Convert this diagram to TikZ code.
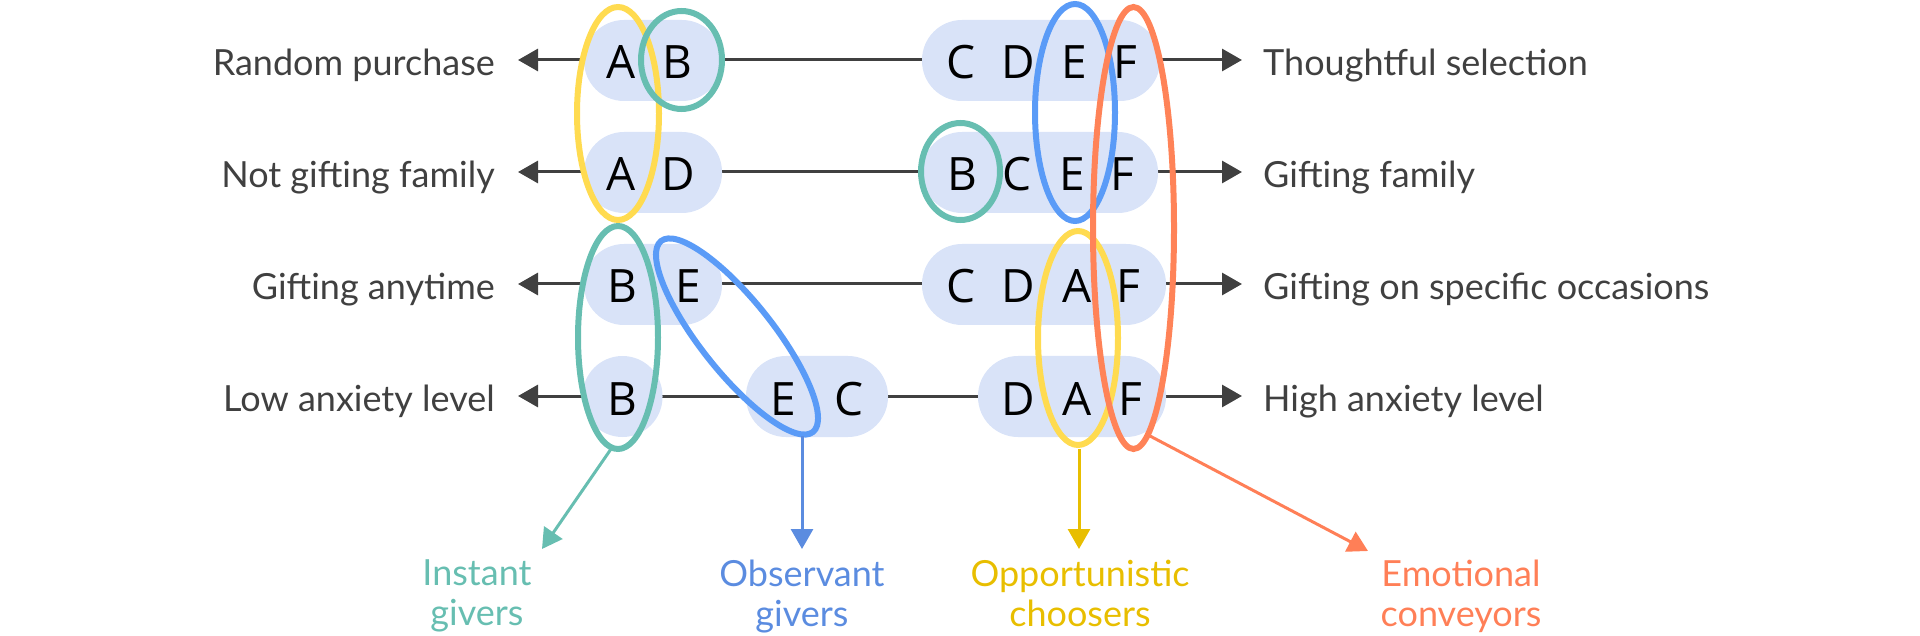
\documentclass[tikz,border=0pt]{standalone}
\usepackage{fontspec}
\setmainfont{Lato}
\newfontfamily\letterfont{Open Sans}
\usetikzlibrary{arrows.meta}
\definecolor{pillc}{HTML}{D9E3F8}
\definecolor{darkc}{HTML}{404040}
\definecolor{tealc}{HTML}{67BEB1}
\definecolor{blueE}{HTML}{5A9BF7}
\definecolor{blueT}{HTML}{5B8CE0}
\definecolor{yellowE}{HTML}{FFDB50}
\definecolor{yellowT}{HTML}{E8BE00}
\definecolor{orangeE}{HTML}{FF8358}
\definecolor{orangeT}{HTML}{FF7F57}
\begin{document}
\begin{tikzpicture}[x=1pt,y=-1pt,
  axisline/.style={draw=darkc, line width=3pt, {Triangle[length=20pt,width=22pt]}-{Triangle[length=20pt,width=22pt]}},
  pill/.style={fill=pillc, draw=none, rounded corners=40pt, minimum height=81pt, inner sep=0pt},
  letter/.style={font=\letterfont\fontsize{46}{50}\selectfont, text=black, anchor=base, inner sep=0pt},
  lblL/.style={font=\fontsize{36}{42}\selectfont, text=darkc, inner sep=0pt, anchor=base east},
  lblR/.style={font=\fontsize{36}{42}\selectfont, text=darkc, inner sep=0pt, anchor=base west},
  grp/.style={line width=6pt},
  pointer/.style={line width=3pt, -{Triangle[length=20pt,width=22pt]}},
  glabel/.style={font=\fontsize{36}{40}\selectfont, align=center, anchor=north, inner sep=0pt}
]
\useasboundingbox (0,0) rectangle (1920,636);

% axis lines
\foreach \r/\y in {1/60,2/172,3/284,4/396}{
  \coordinate (tipL\r) at (518,\y);
  \coordinate (tipR\r) at (1242,\y);
  \draw[axisline] (tipL\r) -- (tipR\r);
}

% side labels
\node[lblL] (L1) at (495,75.5) {Random purchase};
\node[lblL] (L2) at (495,187.5) {Not gifting family};
\node[lblL] (L3) at (495,299.5) {Gifting anytime};
\node[lblL] (L4) at (495,411.5) {Low anxiety level};
\node[lblR] (R1) at (1263,75.5) {Thoughtful selection};
\node[lblR] (R2) at (1263,187.5) {Gifting family};
\node[lblR] (R3) at (1263,299.5) {Gifting on specific occasions};
\node[lblR] (R4) at (1263,411.5) {High anxiety level};

% pills
\node[pill, minimum width=138pt] (p1a) at (653,60.5) {};
\node[pill, minimum width=238pt] (p1b) at (1041,60.5) {};
\node[pill, minimum width=138pt] (p2a) at (653,172.5) {};
\node[pill, minimum width=236pt] (p2b) at (1040,172.5) {};
\node[pill, minimum width=138pt] (p3a) at (653,284.5) {};
\node[pill, minimum width=244pt] (p3b) at (1044,284.5) {};
\node[pill, minimum width=80pt] (p4a) at (622.5,396.5) {};
\node[pill, minimum width=142pt] (p4m) at (817,396.5) {};
\node[pill, minimum width=188pt] (p4b) at (1072,396.5) {};

% letters
\node[letter] (r1A) at (621,79) {A};
\node[letter] (r1B) at (677,79) {B};
\node[letter] (r1C) at (961,79) {C};
\node[letter] (r1D) at (1018,79) {D};
\node[letter] (r1E) at (1074,79) {E};
\node[letter] (r1F) at (1125,79) {F};
\node[letter] (r2A) at (621,191) {A};
\node[letter] (r2D) at (678,191) {D};
\node[letter] (r2B) at (962,191) {B};
\node[letter] (r2C) at (1017,191) {C};
\node[letter] (r2E) at (1072,191) {E};
\node[letter] (r2F) at (1122,191) {F};
\node[letter] (r3B) at (622,303) {B};
\node[letter] (r3E) at (688,303) {E};
\node[letter] (r3C) at (961,303) {C};
\node[letter] (r3D) at (1018,303) {D};
\node[letter] (r3A) at (1077,303) {A};
\node[letter] (r3F) at (1128,303) {F};
\node[letter] (r4B) at (622,415) {B};
\node[letter] (r4E) at (783,415) {E};
\node[letter] (r4C) at (849,415) {C};
\node[letter] (r4D) at (1018,415) {D};
\node[letter] (r4A) at (1077,415) {A};
\node[letter] (r4F) at (1130,415) {F};

% group ellipses
\draw[grp, draw=yellowE] (618,113.5) ellipse [x radius=41pt, y radius=106.5pt];
\draw[grp, draw=tealc] (681.5,60) ellipse [x radius=40.5pt, y radius=49pt];
\draw[grp, draw=tealc] (960.5,171.5) ellipse [x radius=39.5pt, y radius=48.5pt];
\draw[grp, draw=blueE] (1075,112.5) ellipse [x radius=40pt, y radius=108.5pt];
\draw[grp, draw=yellowE] (1078,338) ellipse [x radius=40pt, y radius=107pt];
\draw[grp, draw=orangeE] (1133.5,228) ellipse [x radius=40.5pt, y radius=221pt];
\draw[grp, draw=tealc] (618,337.5) ellipse [x radius=40pt, y radius=111.5pt];
\draw[grp, draw=blueE, rotate around={-51.5:(737,336.5)}] (737,336.5) ellipse [x radius=122pt, y radius=36pt];

% group labels
\node[glabel, text=tealc] (gT) at (477,560) {Instant\\givers};
\node[glabel, text=blueT] (gB) at (802,560) {Observant\\givers};
\node[glabel, text=yellowT] (gY) at (1080,560) {Opportunistic\\choosers};
\node[glabel, text=orangeT] (gO) at (1461,560) {Emotional\\conveyors};

% pointers
\coordinate (sT) at (611,449);
\coordinate (eT) at (542,549);
\coordinate (sB) at (802,436);
\coordinate (eB) at (802,549);
\coordinate (sY) at (1079,449);
\coordinate (eY) at (1079,549);
\coordinate (sO) at (1150,436);
\coordinate (eO) at (1368,551);
\draw[pointer, draw=tealc, fill=tealc] (sT) -- (eT);
\draw[pointer, draw=blueT, fill=blueT] (sB) -- (eB);
\draw[pointer, draw=yellowT, fill=yellowT] (sY) -- (eY);
\draw[pointer, draw=orangeT, fill=orangeT] (sO) -- (eO);
\end{tikzpicture}
\end{document}
